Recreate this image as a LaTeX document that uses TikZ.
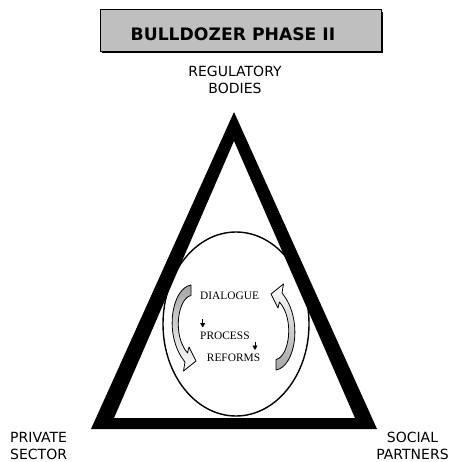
\documentclass[tikz,border=0pt]{standalone}
\usepackage{fontspec}
\setsansfont{DejaVu Sans}
\newfontfamily\stageserif{Liberation Serif}
\usetikzlibrary{arrows.meta}

\tikzset{
  corner/.style={font=\sffamily\fontsize{14}{17}\selectfont, inner sep=0pt},
  stage/.style={font=\stageserif\fontsize{11.4}{13}\selectfont, inner sep=0pt, anchor=base west},
  curvearrow/.style={draw=black, line width=0.8pt, line join=round, top color=black!35, bottom color=white},
  tick/.style={line width=0.8pt, -{Triangle[width=5pt,length=4.5pt]}},
}

\begin{document}
\begin{tikzpicture}[x=1pt,y=-1pt]
    \useasboundingbox (0,0) rectangle (454,462);
    % Title box and its shadow
    \fill (102,12) rectangle (382.5,53.5);
    \node (titlebox) [draw, line width=1pt, fill=black!25, minimum width=281pt, minimum height=42pt, inner sep=0pt] at (240.5,31) {};
    \node (title) [font=\sffamily\bfseries\fontsize{17.2}{18}\selectfont, inner sep=0pt] at (233,34) {BULLDOZER PHASE II};
    % Thick triangle
    \fill[even odd rule] (234,112) -- (91,429) -- (377,429) -- cycle
                         (234,141) -- (114,418) -- (355,418) -- cycle;
    % Ellipse in the middle
    \draw[line width=1.4pt] (236,324) ellipse [x radius=73, y radius=92];
    % Corner labels
    \node (regbodies) [corner, align=center, anchor=north] at (235,65.5) {REGULATORY\\BODIES};
    \node (privsector) [corner, align=left, anchor=north west] at (10,432.3) {PRIVATE\\SECTOR};
    \node (socpartners) [corner, align=center, anchor=north] at (412.5,432.3) {SOCIAL\\PARTNERS};
    % Cycle texts
    \node (dialogue) [stage] at (200,299) {DIALOGUE};
    \node (process) [stage] at (200,339.3) {PROCESS};
    \node (reforms) [stage] at (206.7,361.7) {REFORMS};
    \coordinate (dp1) at (202.7,319);
    \coordinate (dp2) at (202.7,327.5);
    \draw[tick] (dp1) -- (dp2);
    \coordinate (pr1) at (255,341.5);
    \coordinate (pr2) at (255,350);
    \draw[tick] (pr1) -- (pr2);
    % Curved arrows, the second one turned round
    \foreach \r in {0,180} {
        \shadedraw[curvearrow, rotate around={\r:(233.5,327.5)}, shading angle=\r]
            (191,285) .. controls (172,288) and (163,335) .. (185,362)
            -- (183.5,371) -- (196,361) -- (189,347) -- (187.5,353)
            .. controls (172,335) and (178,298) .. (191,295.5) -- cycle;
    }
\end{tikzpicture}
\end{document}
